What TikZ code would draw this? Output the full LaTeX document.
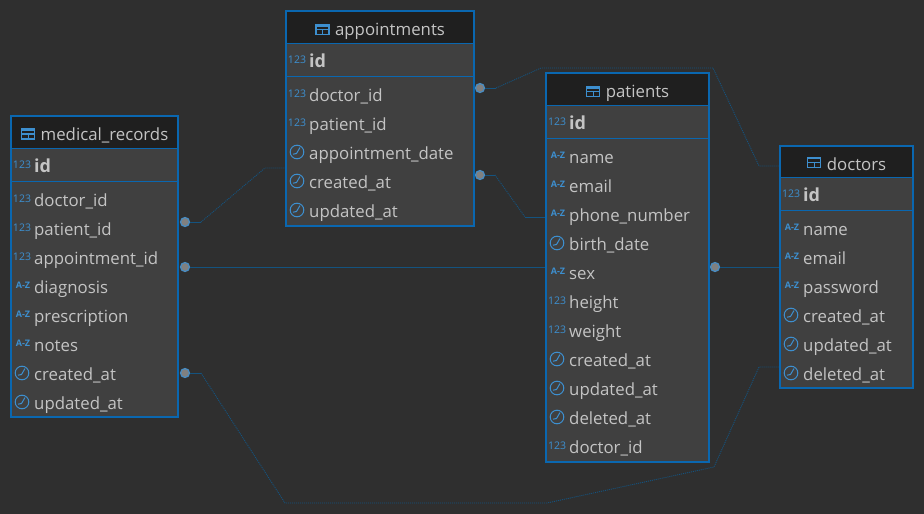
\documentclass[tikz,border=0pt]{standalone}
\usepackage{fontspec}
\setmainfont{Open Sans}
\usetikzlibrary{calc}
\definecolor{canvasbg}{HTML}{2F2F2F}
\definecolor{headbg}{HTML}{1F1F1F}
\definecolor{rowbg}{HTML}{404040}
\definecolor{tableblue}{HTML}{0A67B0}
\definecolor{linkblue}{HTML}{14537F}
\definecolor{iconblue}{HTML}{3D8FCF}
\definecolor{labelgrey}{HTML}{C4C4C4}
\tikzstyle{tablebox}  = [fill=rowbg]
\tikzstyle{headbox}   = [fill=headbg]
\tikzstyle{rule}      = [draw=tableblue, line width=1pt]
\tikzstyle{title}     = [anchor=base, text=labelgrey, font=\fontsize{16.8}{18}\selectfont]
\tikzstyle{field}     = [anchor=base west, inner sep=0pt, text=labelgrey, font=\fontsize{16.8}{18}\selectfont]
\tikzstyle{keyfield}  = [field, font=\fontsize{18}{20}\selectfont\bfseries]
\tikzstyle{icontext}  = [anchor=center, inner sep=0pt, text=iconblue, font=\fontsize{10.5}{10}\selectfont]
\tikzstyle{aztext}    = [icontext, font=\fontsize{9}{10}\selectfont\bfseries]
\tikzstyle{endpoint}  = [circle, inner sep=0pt, minimum size=9pt, fill=black!50, draw=tableblue!75, line width=1.2pt]
\tikzstyle{link}      = [draw=linkblue, line width=0.9pt]
\tikzstyle{linkdot}   = [link, dash pattern=on 1pt off 1pt]
\tikzset{
  clockicon/.pic={
    \draw[iconblue, line width=1pt] (0,0) circle (6.8pt);
    \draw[iconblue, line width=1pt] (3,-4.5) -- (-0.5,1.5) -- (-4,2.2);
  },
  gridicon/.pic={
    \draw[iconblue, line width=1.2pt] (-6.5,-5) rectangle (6.5,5);
    \draw[iconblue, line width=1.2pt] (-6.5,0) -- (6.5,0) (0,0) -- (0,5);
    \draw[iconblue, line width=1.8pt] (-6.5,-4.2) -- (6.5,-4.2);
  }
}
% one field row: y / kind / text, kind is n, a or c
\newcommand{\fieldrows}[2]{%
  \foreach \y/\kind/\fname in {#2} {
    \if\kind n\node[icontext] at (#1+11,\y-1.5) {123};\fi
    \if\kind a\node[aztext] at (#1+12,\y-1.5) {A-Z};\fi
    \if\kind c\pic at (#1+11,\y-1) {clockicon};\fi
    \node[field] at (#1+23,\y+6) {\fname};
  }%
}
% x1 / y1 / x2 / y2 of the box, then header and id rule y
\newcommand{\tablebase}[7]{%
  \path[tablebox] (#1,#2) rectangle (#3,#4);
  \path[headbox] (#1,#2) rectangle (#3,#5);
  \draw[rule] (#1,#5) -- (#3,#5);
  \draw[rule] (#1,#6) -- (#3,#6);
  \draw[tableblue, line width=2pt] (#1,#2) rectangle (#3,#4);
  \node[icontext] at (#1+11,{(#5+#6)/2}) {123};
  \node[keyfield] at (#1+23,{(#5+#6)/2+8}) {id};
  \node[title] at ({(#1+#3)/2+10},#2+24) (#7) {\detokenize{#7}};
  \pic at ($(#7.west)+(-9,-1)$) {gridicon};
}
\begin{document}
\begin{tikzpicture}[x=1pt, y=-1pt]
  \fill[canvasbg] (0,0) rectangle (924,514);
  \useasboundingbox (0,0) rectangle (924,514);

  % connectors first, the tables sit on top of them
  \coordinate (mrA) at (201,222);
  \coordinate (mrB) at (265,168);
  \coordinate (apC) at (286,168);
  \coordinate (apD) at (496,88);
  \coordinate (apE) at (541,68);
  \coordinate (apF) at (713,68);
  \coordinate (apG) at (759,166);
  \coordinate (drA) at (780,166);
  \coordinate (apH) at (495,175);
  \coordinate (apI) at (525,217);
  \coordinate (paA) at (546,217);
  \coordinate (mrC) at (201,373);
  \coordinate (mrD) at (285,503);
  \coordinate (mrE) at (547,503);
  \coordinate (mrF) at (714,467);
  \coordinate (mrG) at (759,367);
  \coordinate (drB) at (780,367);
  \coordinate (paB) at (546,267);
  \coordinate (drC) at (780,267);

  \node[endpoint] (mrDoctor) at (185,222) {};
  \node[endpoint] (mrAppt) at (185,267) {};
  \node[endpoint] (mrNotes) at (185,373) {};
  \node[endpoint] (apDoctor) at (480,88) {};
  \node[endpoint] (apPatient) at (480,175) {};
  \node[endpoint] (paDoctor) at (715,267) {};

  \draw[link] (mrDoctor) -- (mrA);
  \draw[linkdot] (mrA) -- (mrB) -- (apC);
  \draw[link] (mrAppt) -- (paB);
  \draw[link] (apDoctor) -- (apD);
  \draw[linkdot] (apD) -- (apE) -- (apF) -- (apG) -- (drA);
  \draw[link] (apPatient) -- (apH);
  \draw[linkdot] (apH) -- (apI);
  \draw[link] (apI) -- (paA);
  \draw[link] (mrNotes) -- (mrC);
  \draw[linkdot] (mrC) -- (mrD) -- (mrE) -- (mrF) -- (mrG) -- (drB);
  \draw[link] (paDoctor) -- (drC);

  \tablebase{11}{116}{178}{417}{148}{181}{medical_records}
  \fieldrows{11}{200/n/doctor\_id, 229/n/patient\_id, 258/n/appointment\_id, 287/a/diagnosis, 316/a/prescription, 345/a/notes, 374/c/created\_at, 403/c/updated\_at}

  \tablebase{286}{11}{474}{226}{43}{76}{appointments}
  \fieldrows{286}{95/n/doctor\_id, 124/n/patient\_id, 153/c/appointment\_date, 182/c/created\_at, 211/c/updated\_at}

  \tablebase{546}{73}{709}{462}{105}{138}{patients}
  \fieldrows{546}{157/a/name, 186/a/email, 215/a/phone\_number, 244/c/birth\_date, 273/a/sex, 302/n/height, 331/n/weight, 360/c/created\_at, 389/c/updated\_at, 418/c/deleted\_at, 447/n/doctor\_id}

  \tablebase{780}{146}{913}{388}{177}{210}{doctors}
  \fieldrows{780}{229/a/name, 258/a/email, 287/a/password, 316/c/created\_at, 345/c/updated\_at, 374/c/deleted\_at}
\end{tikzpicture}
\end{document}
